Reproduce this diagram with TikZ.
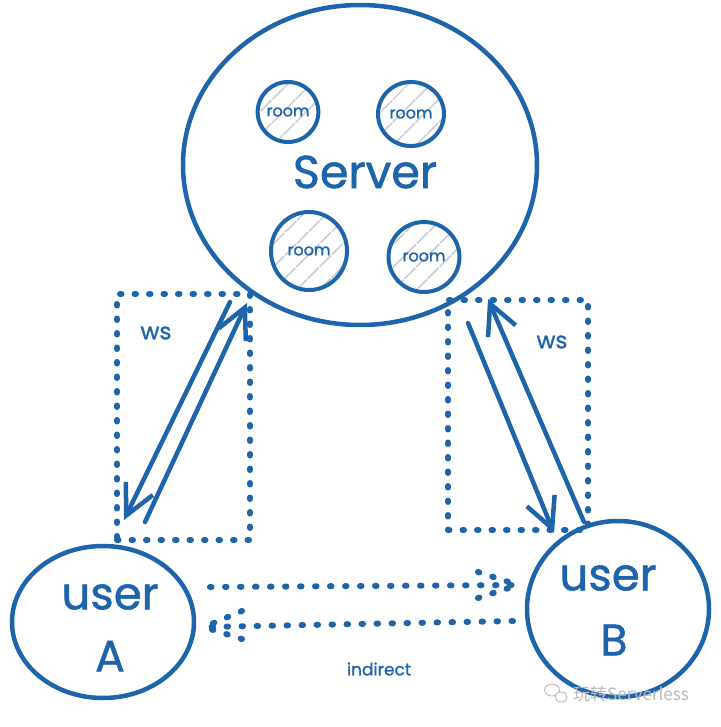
\documentclass[tikz,border=0pt]{standalone}
\usepackage{fontspec}
\setmainfont{Poppins}
\newfontfamily\hand{Poppins}[FakeBold=1.2]
\newfontfamily\cjk{Noto Sans CJK SC}
\usetikzlibrary{shapes.geometric,arrows.meta,patterns.meta,calc}
\definecolor{ink}{RGB}{30,100,170}
\definecolor{hatch}{RGB}{200,205,212}
\tikzset{
  x=1pt,y=-1pt,
  ring/.style={draw=ink, line width=4.5pt, ellipse, inner sep=0pt},
  roomring/.style={ring, line width=4pt, pattern={Lines[angle=45,distance=17pt,line width=2pt]}, pattern color=hatch, font=\hand\fontsize{16}{16}\selectfont, text=ink},
  dotbox/.style={draw=ink, line width=6pt, line cap=round, dash pattern=on 1.5pt off 13pt, inner sep=0pt},
  dotline/.style={draw=ink, line width=6pt, line cap=round, dash pattern=on 1.5pt off 13.5pt},
  wsarrow/.style={draw=ink, line width=4.5pt, line cap=round, -{Straight Barb[length=30pt,width=30pt,line width=4.5pt]}},
  lbl/.style={text=ink, inner sep=0pt},
}
\begin{document}
\begin{tikzpicture}
\useasboundingbox (0,0) rectangle (720,727);
% server
\node[ring, minimum width=354, minimum height=320] (server) at (360,165) {};
\node[lbl, font=\hand\fontsize{46}{46}\selectfont] (srvlbl) at (365,172) {Server};
\node[roomring, minimum width=60, minimum height=60] (room1) at (288,112) {room};
\node[roomring, minimum width=66, minimum height=64] (room2) at (411,114) {room};
\node[roomring, minimum width=76, minimum height=78] (room3) at (309,251) {room};
\node[roomring, minimum width=71, minimum height=70] (room4) at (424,257) {room};
% users
\node[ring, minimum width=182, minimum height=152] (userA) at (103,622) {};
\node[lbl, font=\hand\fontsize{45}{45}\selectfont] (uA1) at (110,597) {user};
\node[lbl, font=\hand\fontsize{44}{44}\selectfont] (uA2) at (110,656) {A};
\node[ring, minimum width=182, minimum height=176] (userB) at (618,609) {};
\node[lbl, font=\hand\fontsize{45}{45}\selectfont] (uB1) at (608,578) {user};
\node[lbl, font=\hand\fontsize{44}{44}\selectfont] (uB2) at (614,640) {B};
% dotted boxes
\node[dotbox, minimum width=133, minimum height=246] (boxL) at (183.5,417) {};
\node[dotbox, minimum width=140, minimum height=230] (boxR) at (518,415) {};
\node[lbl, font=\hand\fontsize{23}{23}\selectfont] (wsL) at (156,333) {ws};
\node[lbl, font=\hand\fontsize{23}{23}\selectfont] (wsR) at (552,342) {ws};
% ws arrows
\coordinate (l1s) at (230,302);
\coordinate (l1e) at (124,520);
\coordinate (l2s) at (145,522);
\coordinate (l2e) at (247,303);
\coordinate (r1s) at (468,323);
\coordinate (r1e) at (554,533);
\coordinate (r2s) at (584,522);
\coordinate (r2e) at (488,299);
\draw[wsarrow] (l1s) -- (l1e);
\draw[wsarrow] (l2s) -- (l2e);
\draw[wsarrow] (r1s) -- (r1e);
\draw[wsarrow] (r2s) -- (r2e);
% indirect arrows
\coordinate (i1s) at (210,587);
\coordinate (i1e) at (518,585);
\coordinate (i2s) at (513,621);
\coordinate (i2e) at (204,627);
\draw[dotline] (i1s) -- (i1e);
\draw[dotline] ($(i1e)+(-40,-13)$) -- (i1e);
\draw[dotline] ($(i1e)+(-40,13)$) -- (i1e);
\draw[dotline] (i2s) -- (i2e);
\draw[dotline] ($(i2e)+(38,-16)$) -- (i2e);
\draw[dotline] ($(i2e)+(38,12)$) -- (i2e);
\node[lbl, font=\hand\fontsize{17}{17}\selectfont] (ind) at (379,669) {indirect};
% watermark
\node[draw=gray!60, line width=0.8pt, ellipse, minimum width=15, minimum height=12, inner sep=0pt] (wc1) at (552,690) {};
\node[draw=gray!60, fill=white, line width=0.8pt, ellipse, minimum width=12, minimum height=10, inner sep=0pt] (wc2) at (561,697) {};
\node[text=gray!55, inner sep=0pt, anchor=west, font=\cjk\fontsize{17}{17}\selectfont] (wm) at (573,694) {玩转Serverless};
\end{tikzpicture}
\end{document}
